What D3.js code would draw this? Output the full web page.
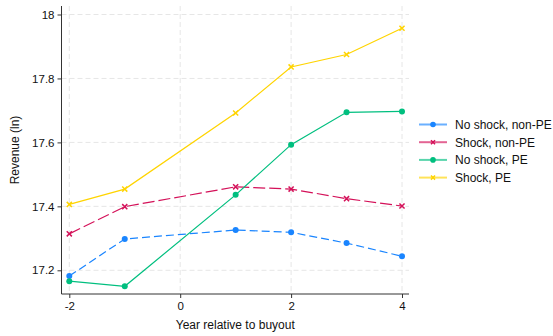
<!DOCTYPE html>
<html>
<head>
<meta charset="utf-8">
<script src="https://cdn.jsdelivr.net/npm/d3@7"></script>
<style>
  html, body { margin: 0; padding: 0; background: #fff; }
  svg { display: block; font-family: "Liberation Sans", Arial, sans-serif; }
</style>
</head>
<body>
<svg id="chart" width="553" height="336"></svg>
<script>
// Event-time years relative to the buyout (year 0 omitted as the reference year)
const years = [-2, -1, 1, 2, 3, 4];

// Mean log revenue for each group
const noShockNonPE = [17.182, 17.298, 17.326, 17.319, 17.285, 17.244];
const shockNonPE   = [17.314, 17.399, 17.461, 17.454, 17.424, 17.401];
const noShockPE    = [17.166, 17.150, 17.436, 17.593, 17.694, 17.697];
const shockPE      = [17.406, 17.454, 17.692, 17.836, 17.875, 17.957];

const seriesNames = ["No shock, non-PE", "Shock, non-PE", "No shock, PE", "Shock, PE"];

const xTicks = [-2, 0, 2, 4];
const xTickLabels = ["-2", "0", "2", "4"];
const yTicks = [17.2, 17.4, 17.6, 17.8, 18];
const yTickLabels = ["17.2", "17.4", "17.6", "17.8", "18"];

const series = [
  { name: seriesNames[0], values: noShockNonPE, color: "#1a85ff", dash: "8,4",  marker: "circle" },
  { name: seriesNames[1], values: shockNonPE,   color: "#d41159", dash: "12,4", marker: "cross" },
  { name: seriesNames[2], values: noShockPE,    color: "#00bf7f", dash: null,   marker: "circle" },
  { name: seriesNames[3], values: shockPE,      color: "#ffd400", dash: null,   marker: "cross" }
];

const svg = d3.select("#chart");
const font = "'Liberation Sans', Arial, sans-serif";

// Plot region
const plot = { left: 61.5, right: 409, top: 6, bottom: 294 };

const x = d3.scaleLinear().domain([-2, 4]).range([69.3, 402]);
const y = d3.scaleLinear().domain([17.2, 18]).range([270.3, 14.5]);

// Grid lines
const grid = svg.append("g");
grid.selectAll("line.h").data(yTicks).join("line")
  .attr("x1", plot.left).attr("x2", plot.right)
  .attr("y1", d => y(d)).attr("y2", d => y(d))
  .attr("stroke", "#e6e6e6").attr("stroke-width", 1)
  .attr("stroke-dasharray", "5,3");
grid.selectAll("line.v").data(xTicks).join("line")
  .attr("y1", plot.top).attr("y2", plot.bottom)
  .attr("x1", d => x(d)).attr("x2", d => x(d))
  .attr("stroke", "#e6e6e6").attr("stroke-width", 1)
  .attr("stroke-dasharray", "5,3");

// Axes
const axisColor = "#333";
const yAxis = svg.append("g")
  .attr("transform", `translate(${plot.left},0)`)
  .call(d3.axisLeft(y).tickValues(yTicks).tickSize(4).tickPadding(3)
        .tickFormat((d, i) => yTickLabels[i]));
yAxis.select(".domain").remove();
yAxis.append("line").attr("x1", 0).attr("x2", 0)
  .attr("y1", plot.top).attr("y2", plot.bottom).attr("stroke", axisColor);

const xAxis = svg.append("g")
  .attr("transform", `translate(0,${plot.bottom})`)
  .call(d3.axisBottom(x).tickValues(xTicks).tickSize(4).tickPadding(4)
        .tickFormat((d, i) => xTickLabels[i]));
xAxis.select(".domain").remove();
xAxis.append("line").attr("x1", plot.left).attr("x2", plot.right)
  .attr("y1", 0).attr("y2", 0).attr("stroke", axisColor);

[yAxis, xAxis].forEach(a => {
  a.attr("font-family", font);
  a.selectAll(".tick line").attr("stroke", axisColor);
  a.selectAll(".tick text").attr("fill", "#111")
    .style("font-size", "11.5px");
});

// Axis titles
svg.append("text")
  .attr("x", (plot.left + plot.right) / 2).attr("y", 329)
  .attr("text-anchor", "middle").attr("fill", "#111")
  .style("font-size", "12px")
  .text("Year relative to buyout");

svg.append("text")
  .attr("transform", `translate(18.5,${(plot.top + plot.bottom) / 2}) rotate(-90)`)
  .attr("text-anchor", "middle").attr("fill", "#111")
  .style("font-size", "12px")
  .text("Revenue (ln)");

// Marker drawing
function drawMarker(g, type, cx, cy, color, size) {
  if (type === "circle") {
    g.append("circle").attr("cx", cx).attr("cy", cy).attr("r", size)
      .attr("fill", color);
  } else {
    const s = size * 0.85;
    g.append("path")
      .attr("d", `M${cx - s},${cy - s}L${cx + s},${cy + s}M${cx - s},${cy + s}L${cx + s},${cy - s}`)
      .attr("stroke", color).attr("stroke-width", 1.5).attr("fill", "none");
  }
}

// Series lines and markers
const line = d3.line().x((d, i) => x(years[i])).y(d => y(d));
series.forEach(s => {
  const g = svg.append("g");
  g.append("path").datum(s.values)
    .attr("d", line)
    .attr("fill", "none")
    .attr("stroke", s.color)
    .attr("stroke-width", 1.2)
    .attr("stroke-dasharray", s.dash);
  s.values.forEach((v, i) => drawMarker(g, s.marker, x(years[i]), y(v), s.color, 3));
});

// Legend
const legend = svg.append("g");
series.forEach((s, i) => {
  const cy = 124.5 + i * 17.7;
  const g = legend.append("g");
  g.append("line").attr("x1", 419).attr("x2", 447).attr("y1", cy).attr("y2", cy)
    .attr("stroke", s.color).attr("stroke-width", 2).attr("stroke-opacity", 0.65);
  drawMarker(g, s.marker, 433, cy, s.color, s.marker === "circle" ? 2.8 : 2.4);
  g.append("text").attr("x", 455).attr("y", cy + 4.3)
    .attr("fill", "#111").style("font-size", "12px")
    .text(s.name);
});
</script>
</body>
</html>
